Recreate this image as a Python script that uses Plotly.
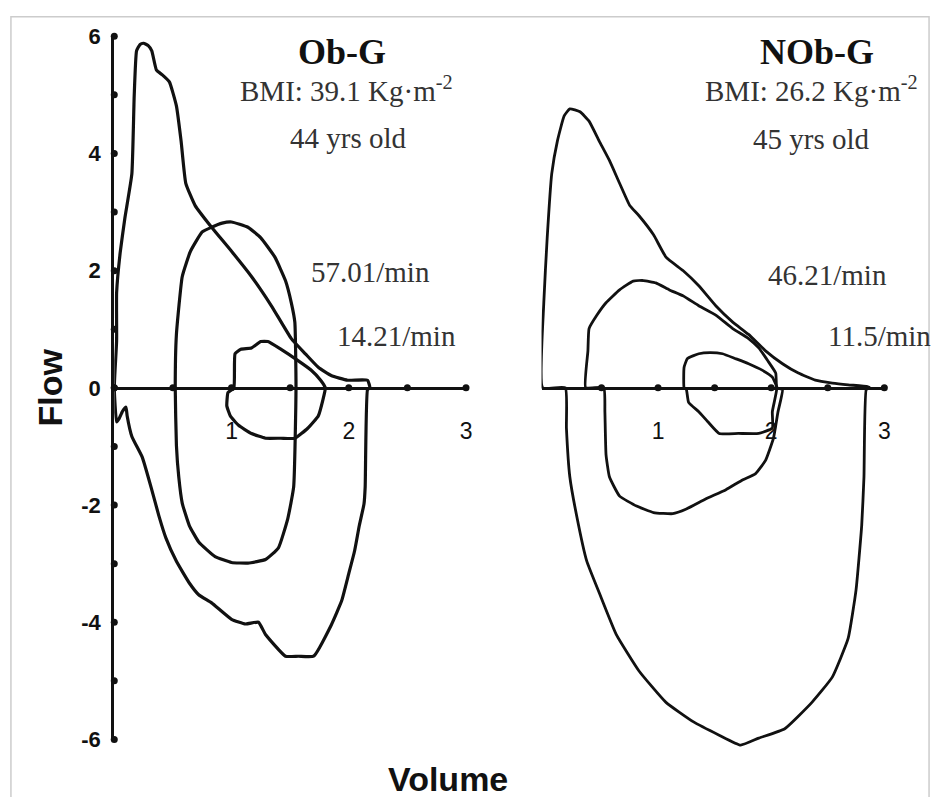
import plotly.graph_objects as go

W, H = 943, 797

# ---- Ob-G subject: flow-volume loops (volume in L, flow in L/s) ----
# maximal forced loop (expiration above zero, inspiration below)
obg_max_vol = [0.00, 0.02, 0.02, 0.05, 0.09, 0.15, 0.17, 0.19, 0.22, 0.25,
               0.29, 0.32, 0.36, 0.41, 0.47, 0.53, 0.57, 0.61, 0.69, 0.83,
               1.00, 1.17, 1.34, 1.51, 1.63, 1.74, 1.85, 1.99, 2.16, 2.18,
               2.16, 2.14, 2.13, 2.09, 2.05, 2.00, 1.94, 1.85, 1.70, 1.57,
               1.46, 1.29, 1.23, 1.12, 1.00, 0.83, 0.72, 0.64, 0.53, 0.44,
               0.38, 0.32, 0.24, 0.15, 0.11, 0.10, 0.07, 0.04, 0.02, 0.00]
obg_max_flow = [0.00, 0.80, 1.62, 2.30, 2.89, 3.65, 4.98, 5.75, 5.86, 5.88,
                5.84, 5.75, 5.42, 5.34, 5.22, 4.81, 4.21, 3.49, 3.11, 2.74,
                2.33, 1.90, 1.40, 0.84, 0.58, 0.35, 0.21, 0.13, 0.13, 0.00,
                -0.03, -1.69, -1.98, -2.35, -2.78, -3.17, -3.63, -4.05, -4.58, -4.58,
                -4.58, -4.21, -4.00, -4.03, -3.95, -3.67, -3.53, -3.33, -2.96, -2.56,
                -2.18, -1.74, -1.19, -0.83, -0.48, -0.33, -0.40, -0.53, -0.58, 0.00]

# loop at 57.0 l/min
obg_mid_vol = [0.52, 0.53, 0.58, 0.65, 0.75, 0.83, 0.92, 1.00, 1.14, 1.25,
               1.37, 1.46, 1.51, 1.54, 1.55, 1.53, 1.48, 1.40, 1.29, 1.14,
               1.00, 0.86, 0.72, 0.64, 0.58, 0.55, 0.53, 0.52]
obg_mid_flow = [0.00, 0.91, 1.90, 2.33, 2.66, 2.74, 2.81, 2.83, 2.74, 2.56,
                2.23, 1.83, 1.45, 1.12, 0.00, -1.69, -2.23, -2.73, -2.93, -2.99,
                -2.98, -2.88, -2.63, -2.35, -1.97, -1.52, -0.98, 0.00]

# tidal loop at 14.2 l/min
obg_tid_vol = [1.02, 1.03, 1.08, 1.17, 1.25, 1.31, 1.42, 1.57, 1.68, 1.76,
               1.80, 1.78, 1.74, 1.65, 1.54, 1.42, 1.29, 1.17, 1.06, 0.99,
               0.96, 0.97, 1.02]
obg_tid_flow = [0.00, 0.58, 0.66, 0.68, 0.79, 0.79, 0.66, 0.46, 0.30, 0.13,
                0.00, -0.20, -0.48, -0.69, -0.86, -0.86, -0.86, -0.78, -0.64, -0.48,
                -0.31, -0.08, 0.00]

# ---- NOb-G subject ----
nobg_max_vol = [0.18, -0.02, -0.01, 0.02, 0.06, 0.11, 0.17, 0.22, 0.31, 0.39,
                0.48, 0.57, 0.66, 0.75, 0.83, 0.96, 1.07, 1.22, 1.36, 1.51,
                1.66, 1.80, 1.95, 2.10, 2.24, 2.39, 2.54, 2.68, 2.85, 2.87,
                2.84, 2.82, 2.80, 2.75, 2.68, 2.54, 2.36, 2.12, 1.89, 1.73,
                1.54, 1.31, 1.07, 0.83, 0.63, 0.48, 0.37, 0.28, 0.22, 0.19,
                0.18]
nobg_max_flow = [0.00, 0.00, 1.45, 2.56, 3.65, 4.21, 4.64, 4.76, 4.71, 4.55,
                 4.21, 3.88, 3.49, 3.11, 2.94, 2.61, 2.23, 2.00, 1.74, 1.40,
                 1.12, 0.91, 0.63, 0.41, 0.25, 0.13, 0.08, 0.05, 0.02, 0.00,
                 -0.03, -1.52, -2.35, -3.45, -4.28, -4.94, -5.37, -5.82, -5.98, -6.10,
                 -5.93, -5.70, -5.37, -4.83, -4.21, -3.50, -2.96, -2.18, -1.52, -0.69,
                 0.00]

# loop at 46.2 l/min
nobg_mid_vol = [0.52, 0.36, 0.38, 0.39, 0.46, 0.54, 0.66, 0.78, 0.87, 0.98,
                1.10, 1.22, 1.36, 1.51, 1.66, 1.80, 1.89, 1.97, 2.04, 2.05,
                2.10, 2.06, 2.02, 1.95, 1.86, 1.75, 1.60, 1.42, 1.25, 1.13,
                0.96, 0.81, 0.66, 0.57, 0.54, 0.53, 0.52]
nobg_mid_flow = [0.00, 0.00, 0.63, 1.01, 1.24, 1.45, 1.67, 1.82, 1.83, 1.79,
                 1.67, 1.57, 1.40, 1.24, 1.01, 0.84, 0.68, 0.46, 0.25, 0.00,
                 -0.03, -0.41, -0.86, -1.24, -1.47, -1.57, -1.74, -1.90, -2.07, -2.15,
                 -2.13, -2.02, -1.85, -1.52, -1.14, -0.41, 0.00]

# tidal loop at 11.5 l/min
nobg_tid_vol = [1.23, 1.23, 1.26, 1.36, 1.46, 1.57, 1.68, 1.80, 1.92, 2.01,
                2.05, 2.01, 2.01, 1.89, 1.71, 1.54, 1.44, 1.36, 1.27, 1.25,
                1.23]
nobg_tid_flow = [0.00, 0.35, 0.50, 0.58, 0.60, 0.58, 0.50, 0.41, 0.30, 0.18,
                 0.00, -0.41, -0.69, -0.78, -0.78, -0.78, -0.58, -0.41, -0.25, -0.03,
                 0.00]

# axis ticks
y_ticks = [-6, -4, -2, 0, 2, 4, 6]
y_dots = [-6, -5, -4, -3, -2, -1, 0, 1, 2, 3, 4, 5, 6]
x_ticks = [1, 2, 3]
x_dots_left = [0, 0.5, 1, 1.5, 2, 2.5, 3]
x_dots_right = [0.5, 1, 1.5, 2, 2.5, 3]

INK = "#111111"
SANS = "Liberation Sans, Arial, sans-serif"
SERIF = "Liberation Serif, Times New Roman, serif"


def fx(px):
    return px / W


def fy(py):
    return 1 - py / H


fig = go.Figure()


def loop(vol, flow, xa, ya, width):
    fig.add_trace(go.Scatter(x=vol, y=flow, xaxis=xa, yaxis=ya, mode="lines",
                             line=dict(color=INK, width=width, shape="spline", smoothing=0.4),
                             hoverinfo="skip"))


loop(obg_max_vol, obg_max_flow, "x", "y", 3.2)
loop(obg_mid_vol, obg_mid_flow, "x", "y", 3.2)
loop(obg_tid_vol, obg_tid_flow, "x", "y", 3.2)
loop(nobg_max_vol, nobg_max_flow, "x2", "y2", 2.8)
loop(nobg_mid_vol, nobg_mid_flow, "x2", "y2", 2.8)
loop(nobg_tid_vol, nobg_tid_flow, "x2", "y2", 2.8)

# dot markers along the axes
dot = dict(color=INK, size=7)
fig.add_trace(go.Scatter(x=[0] * len(y_dots), y=y_dots, xaxis="x", yaxis="y",
                         mode="markers", marker=dot, cliponaxis=False, hoverinfo="skip"))
fig.add_trace(go.Scatter(x=x_dots_left, y=[0] * len(x_dots_left), xaxis="x", yaxis="y",
                         mode="markers", marker=dot, cliponaxis=False, hoverinfo="skip"))
fig.add_trace(go.Scatter(x=x_dots_right, y=[0] * len(x_dots_right), xaxis="x2", yaxis="y2",
                         mode="markers", marker=dot, cliponaxis=False, hoverinfo="skip"))

zero_pos = fy(388)

xstyle = dict(anchor="free", position=zero_pos, side="bottom", showline=True,
              linecolor=INK, linewidth=3, showgrid=False, zeroline=False,
              tickvals=x_ticks, ticktext=[str(v) for v in x_ticks],
              ticks="outside", ticklen=22,
              tickcolor="rgba(0,0,0,0)", tickfont=dict(family=SANS, size=23, color=INK),
              fixedrange=True)

fig.update_layout(
    width=W, height=H,
    margin=dict(l=0, r=0, t=0, b=0),
    paper_bgcolor="white", plot_bgcolor="rgba(0,0,0,0)",
    showlegend=False,
    xaxis=dict(domain=[fx(115), fx(469)], range=[0, 3.0], **xstyle),
    xaxis2=dict(domain=[fx(545), fx(890)], range=[-0.03, 3.0], **xstyle),
    yaxis=dict(domain=[fy(751), fy(25)], range=[-6, 6], anchor="x",
               showline=True, linecolor=INK, linewidth=3, showgrid=False,
               zeroline=False, tickvals=y_ticks, ticktext=[str(v) for v in y_ticks],
               ticks="outside", ticklen=6, tickcolor="rgba(0,0,0,0)",
               tickfont=dict(family=SANS, size=22, color=INK, weight="bold"),
               fixedrange=True),
    yaxis2=dict(domain=[fy(775), fy(25)], range=[-6.4, 6.0], anchor="x2",
                visible=False, fixedrange=True),
)

labels = [
    ("<b>Ob-G</b>", 344, 41, 36, "#111"),
    ("BMI: 39.1 Kg·m<sup>-2</sup>", 349, 79, 29, "#333"),
    ("44 yrs old", 351, 130, 29, "#333"),
    ("57.01/min", 373, 268, 29, "#333"),
    ("14.21/min", 399, 335, 29, "#333"),
    ("<b>NOb-G</b>", 822, 41, 36, "#111"),
    ("BMI: 26.2 Kg·m<sup>-2</sup>", 817, 79, 29, "#333"),
    ("45 yrs old", 817, 131, 29, "#333"),
    ("46.21/min", 833, 272, 29, "#333"),
    ("11.5/min", 885, 335, 29, "#333"),
]
for text, px, py, size, col in labels:
    fig.add_annotation(text=text, x=fx(px), y=fy(py), xref="paper", yref="paper",
                       xanchor="center", yanchor="middle", showarrow=False,
                       font=dict(family=SERIF, size=size, color=col))

fig.add_annotation(text="<b>Flow</b>", x=fx(50), y=fy(388), xref="paper", yref="paper",
                   xanchor="center", yanchor="middle", textangle=-90, showarrow=False,
                   font=dict(family=SANS, size=34, color=INK))
fig.add_annotation(text="<b>Volume</b>", x=fx(451), y=fy(792), xref="paper", yref="paper",
                   xanchor="center", yanchor="middle", showarrow=False,
                   font=dict(family=SANS, size=34, color=INK))

# light frame around the figure
fig.add_shape(type="rect", xref="paper", yref="paper",
              x0=fx(11), x1=fx(935), y0=-0.05, y1=fy(5),
              line=dict(color="#cccccc", width=1.5), fillcolor="rgba(0,0,0,0)", layer="below")

fig.write_html("out.html")
